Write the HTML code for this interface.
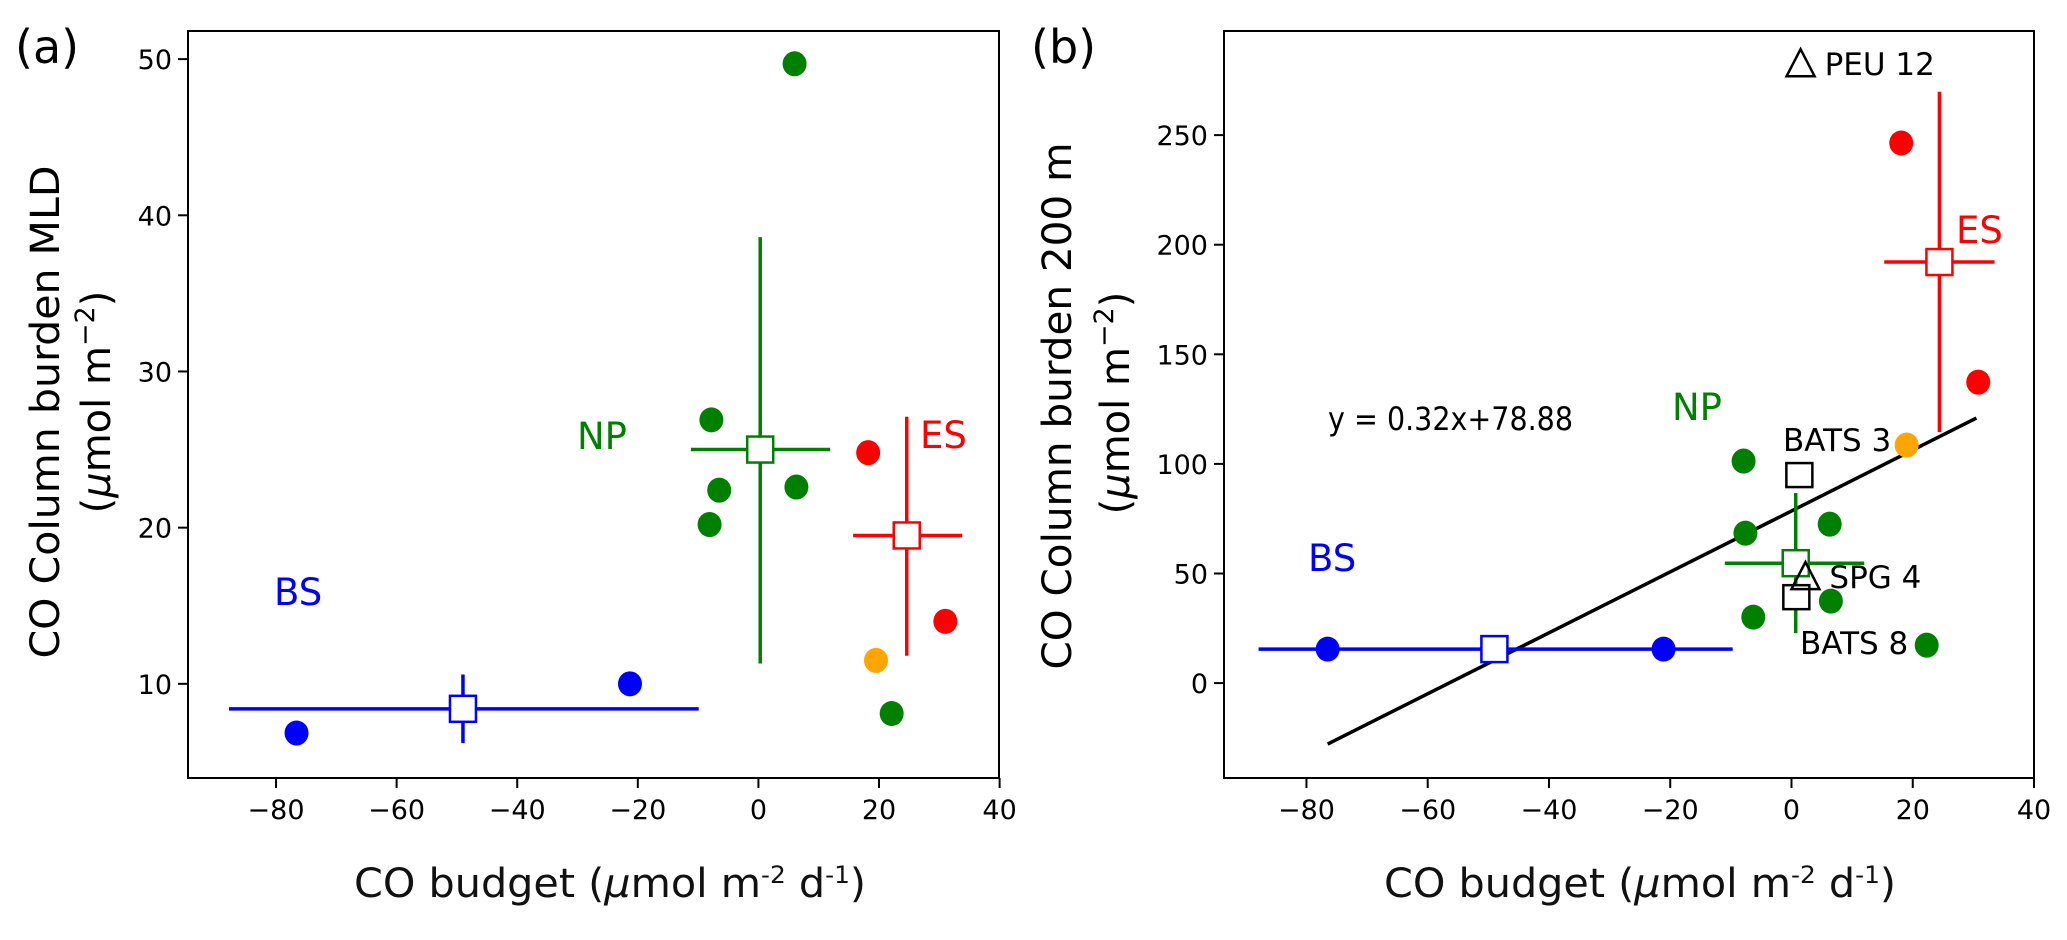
<!DOCTYPE html>
<html><head><meta charset="utf-8">
<style>
html,body{margin:0;padding:0;background:#fff;}
svg{display:block;}
text{font-family:"DejaVu Sans","Liberation Sans",sans-serif;}
</style></head>
<body>
<svg id="fig" width="2067" height="940" viewBox="0 0 2067 940" xmlns="http://www.w3.org/2000/svg"></svg>
<script>
// ---------- Panel (a) data ----------
const aXTicks = [-80, -60, -40, -20, 0, 20, 40];
const aYTicks = [10, 20, 30, 40, 50];
const aBsX = [-76.6, -21.3];
const aBsY = [6.85, 10.0];
const aNpX = [6.0, -7.8, -6.5, -8.1, 6.3, 22.1];
const aNpY = [49.7, 26.9, 22.4, 20.2, 22.6, 8.1];
const aEsX = [18.2, 31.0];
const aEsY = [24.8, 14.0];
const aOrX = [19.5];
const aOrY = [11.5];
// mean markers: [x, y, xlo, xhi, ylo, yhi]
const aBsMean = [-49.0, 8.4, -87.8, -9.9, 6.2, 10.6];
const aNpMean = [0.3, 25.0, -11.2, 11.9, 11.3, 38.6];
const aEsMean = [24.6, 19.5, 15.7, 33.8, 11.8, 27.1];

// ---------- Panel (b) data ----------
const bXTicks = [-80, -60, -40, -20, 0, 20, 40];
const bYTicks = [0, 50, 100, 150, 200, 250];
const bBsX = [-76.5, -21.1];
const bBsY = [15.5, 15.5];
const bNpX = [-7.9, -7.6, 6.3, 6.5, -6.3, 22.3];
const bNpY = [101.3, 68.4, 72.5, 37.4, 30.1, 17.3];
const bEsX = [18.1, 30.8];
const bEsY = [246.4, 137.3];
const bOrX = [19.0];
const bOrY = [108.6];
const bBsMean = [-49.0, 15.5, -87.9, -9.7, 15.5, 15.5];
const bNpMean = [0.7, 54.7, -11.0, 12.0, 22.8, 86.7];
const bEsMean = [24.4, 192.1, 15.3, 33.5, 114.5, 269.8];
const bBatsX = [1.3, 0.8];
const bBatsY = [94.9, 39.2];
const bBatsLabels = ["BATS 3", "BATS 8"];
const bTriX = [1.5, 2.3];
const bTriY = [282.8, 48.8];
const bTriLabels = ["PEU 12", "SPG 4"];
const bFitX = [-76.5, 30.5];
const bFitY = [-27.8, 120.9];

const NS = "http://www.w3.org/2000/svg";
const svg = document.getElementById('fig');
function mk(tag, attrs, parent) {
  const e = document.createElementNS(NS, tag);
  for (const k in attrs) e.setAttribute(k, attrs[k]);
  (parent || svg).appendChild(e);
  return e;
}
function txt(s, attrs, parent) { const t = mk('text', attrs, parent); t.textContent = s; return t; }

function makePanel(cfg) {
  const g = mk('g', {});
  
  
  const sx = v => cfg.L + (v - cfg.xmin) / (cfg.xmax - cfg.xmin) * (cfg.R - cfg.L);
  const sy = v => cfg.B - (v - cfg.ymin) / (cfg.ymax - cfg.ymin) * (cfg.B - cfg.T);
  return {g, sx, sy};
}

function drawAxes(p, cfg, xt, yt) {
  const {g, sx, sy} = p;
  const frame = mk('rect', {x: cfg.L, y: cfg.T, width: cfg.R - cfg.L, height: cfg.B - cfg.T, fill: 'none', stroke: '#000', 'stroke-width': 2}, g);
  
  
  xt.forEach(v => {
    const x = sx(v);
    const tk = mk('line', {x1: x, x2: x, y1: cfg.B, y2: cfg.B + 10, stroke: '#000', 'stroke-width': 2}, g);
    
    
    const t = txt((v < 0 ? '\u2212' + Math.abs(v) : String(v)), {x: x, y: 819, 'font-size': 27, 'text-anchor': 'middle'}, g);
    
    
  });
  yt.forEach(v => {
    const y = sy(v);
    const tk = mk('line', {x1: cfg.L - 10, x2: cfg.L, y1: y, y2: y, stroke: '#000', 'stroke-width': 2}, g);
    
    
    const t = txt(String(v), {x: cfg.L - 16, y: y + 10, 'font-size': 27, 'text-anchor': 'end'}, g);
    
    
  });
}

function dots(p, xs, ys, color, name) {
  xs.forEach((v, i) => {
    const c = mk('ellipse', {cx: p.sx(v), cy: p.sy(ys[i]), rx: 12, ry: 12.5, fill: color}, p.g);
    
    
  });
}

function meanMarker(p, m, color, name) {
  const [x, y, xlo, xhi, ylo, yhi] = m;
  const gg = mk('g', {}, p.g);
  
  
  mk('line', {x1: p.sx(xlo), x2: p.sx(xhi), y1: p.sy(y), y2: p.sy(y), stroke: color, 'stroke-width': 3.5}, gg);
  if (yhi !== ylo) mk('line', {x1: p.sx(x), x2: p.sx(x), y1: p.sy(ylo), y2: p.sy(yhi), stroke: color, 'stroke-width': 3.5}, gg);
  mk('rect', {x: p.sx(x) - 13, y: p.sy(y) - 13, width: 26, height: 26, fill: '#fff', stroke: color, 'stroke-width': 2.5}, gg);
}

// ---------- Panel (a) ----------
const cfgA = {name: 'panel-a', L: 188, R: 999, T: 31, B: 778, xmin: -94.6, xmax: 39.9, ymin: 3.97, ymax: 51.8};
const pa = makePanel(cfgA);
drawAxes(pa, cfgA, aXTicks, aYTicks);
meanMarker(pa, aBsMean, '#0000ff', 'bs-mean-a');
meanMarker(pa, aNpMean, '#008000', 'np-mean-a');
meanMarker(pa, aEsMean, '#ff0000', 'es-mean-a');
dots(pa, aBsX, aBsY, '#0000ff', 'bs-point-a');
dots(pa, aNpX, aNpY, '#008000', 'np-point-a');
dots(pa, aEsX, aEsY, '#ff0000', 'es-point-a');
dots(pa, aOrX, aOrY, '#ffa500', 'orange-point-a');
let t;
t = txt('BS', {x: 274, y: 605, 'font-size': 37, fill: '#0000ff'}, pa.g);
 
t = txt('NP', {x: 577, y: 449, 'font-size': 37, fill: '#008000'}, pa.g);
 
t = txt('ES', {x: 920, y: 448, 'font-size': 37, fill: '#ff0000'}, pa.g);
 

// ---------- Panel (b) ----------
const cfgB = {name: 'panel-b', L: 1224, R: 2034, T: 31, B: 778, xmin: -93.6, xmax: 40.0, ymin: -43.3, ymax: 297.5};
const pb = makePanel(cfgB);
drawAxes(pb, cfgB, bXTicks, bYTicks);
meanMarker(pb, bEsMean, '#ff0000', 'es-mean-b');
const fit = mk('line', {x1: pb.sx(bFitX[0]), y1: pb.sy(bFitY[0]), x2: pb.sx(bFitX[1]), y2: pb.sy(bFitY[1]), stroke: '#000', 'stroke-width': 3.5}, pb.g);


meanMarker(pb, bBsMean, '#0000ff', 'bs-mean-b');
meanMarker(pb, bNpMean, '#008000', 'np-mean-b');
dots(pb, bBsX, bBsY, '#0000ff', 'bs-point-b');
dots(pb, bNpX, bNpY, '#008000', 'np-point-b');
dots(pb, bEsX, bEsY, '#ff0000', 'es-point-b');
dots(pb, bOrX, bOrY, '#ffa500', 'orange-point-b');
bBatsX.forEach((v, i) => {
  const r = mk('rect', {x: pb.sx(v) - 13, y: pb.sy(bBatsY[i]) - 12, width: 26, height: 24, fill: '#fff', stroke: '#000', 'stroke-width': 2.5}, pb.g);
  
  
});
bTriX.forEach((v, i) => {
  const cx = pb.sx(v), cy = pb.sy(bTriY[i]);
  const tr = mk('polygon', {points: `${cx - 14},${cy + 13} ${cx + 14},${cy + 13} ${cx},${cy - 14}`, fill: 'none', stroke: '#000', 'stroke-width': 2.5}, pb.g);
  
  
  const lt = txt(bTriLabels[i], {x: cx + 24, y: cy + 12, 'font-size': 31, fill: '#000'}, pb.g);
  
  
});
t = txt(bBatsLabels[0], {x: 1783, y: 451, 'font-size': 31}, pb.g);
 
t = txt(bBatsLabels[1], {x: 1800, y: 654, 'font-size': 31}, pb.g);
 
t = txt('y = 0.32x+78.88', {x: 1328, y: 430, 'font-size': 32, textLength: 245, lengthAdjust: 'spacingAndGlyphs'}, pb.g);
 
t = txt('BS', {x: 1308, y: 571, 'font-size': 37, fill: '#0000ff'}, pb.g);
 
t = txt('NP', {x: 1672, y: 420, 'font-size': 37, fill: '#008000'}, pb.g);
 
t = txt('ES', {x: 1956, y: 243, 'font-size': 37, fill: '#ff0000'}, pb.g);
 

// ---------- labels ----------
function ylabel(cx1, cy1, len1, s1, cx2, cy2, len2, name) {
  const g = mk('g', {});
  
  
  const t1 = txt(s1, {x: 0, y: 0, 'font-size': 40, 'text-anchor': 'middle', textLength: len1, lengthAdjust: 'spacingAndGlyphs', transform: `translate(${cx1 + 14},${cy1}) rotate(-90)`}, g);
  const t2 = mk('text', {x: 0, y: 0, 'font-size': 40, 'text-anchor': 'middle', transform: `translate(${cx2 + 14},${cy2}) rotate(-90)`}, g);
  t2.innerHTML = '(<tspan font-style="italic">\u03bc</tspan>mol m<tspan dy="-16" font-size="27">\u22122</tspan><tspan dy="16">)</tspan>';
}
ylabel(45, 412, 493, 'CO Column burden MLD', 96, 402, 228, 'y-axis-title-a');
ylabel(1057, 406, 527, 'CO Column burden 200 m', 1115, 403, 230, 'y-axis-title-b');

function xlabel(cx, name) {
  const t = mk('text', {x: cx, y: 897, 'font-size': 40, 'text-anchor': 'middle', fill: '#111', textLength: 512, lengthAdjust: 'spacingAndGlyphs', 'font-family': 'Liberation Sans, sans-serif'});
  t.innerHTML = 'CO budget (<tspan font-style="italic">\u03bc</tspan>mol m<tspan dy="-14" font-size="24">-2</tspan><tspan dy="14"> d</tspan><tspan dy="-14" font-size="24">-1</tspan><tspan dy="14">)</tspan>';
  
  
}
xlabel(610, 'x-axis-title-a');
xlabel(1640, 'x-axis-title-b');

t = txt('(a)', {x: 15, y: 63, 'font-size': 46});
 
t = txt('(b)', {x: 1031, y: 63, 'font-size': 46});
 
</script>
</body></html>
